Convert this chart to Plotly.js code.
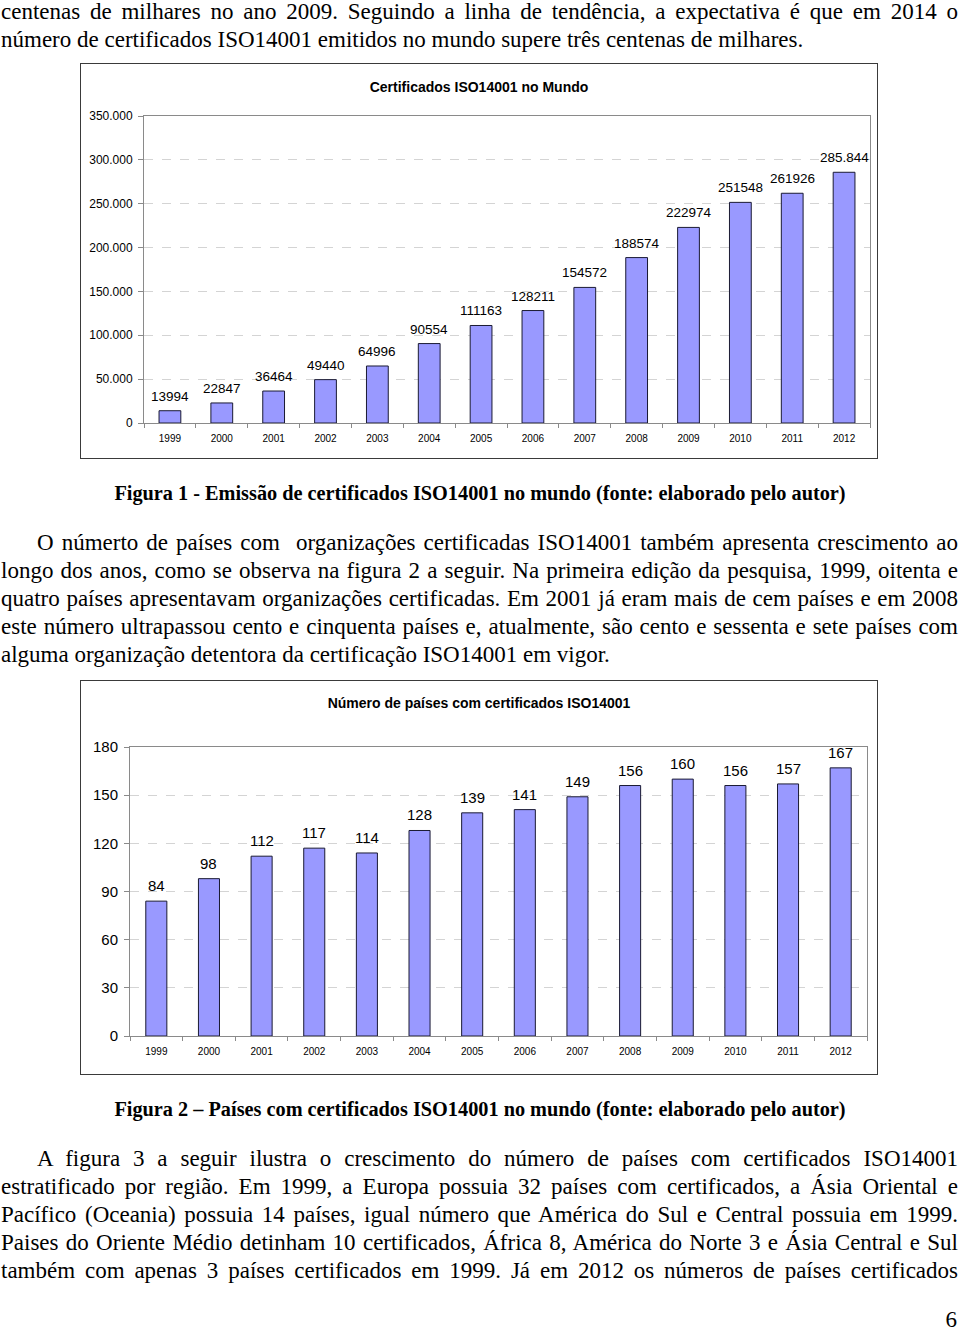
<!DOCTYPE html>
<html>
<head>
<meta charset="utf-8">
<script src="https://cdn.plot.ly/plotly-3.0.1.min.js"></script>
<style>
  html, body { margin:0; padding:0; background:#fff; }
  body { width:960px; height:1331px; position:relative; overflow:hidden;
         font-family:"Liberation Serif","Times New Roman",serif; color:#000; }
  .txt { position:absolute; left:1px; width:957px; font-size:23px; line-height:28px; }
  .ln { text-align:justify; text-align-last:justify; white-space:nowrap; }
  .ln.last { text-align-last:left; }
  .ind { padding-left:36px; }
  .cap { position:absolute; left:0; width:960px; text-align:center; font-weight:bold; font-size:20.3px; line-height:28px; }
  .frame { position:absolute; left:80px; width:796px; border:1px solid #3a3a3a; background:#fff; }
  .pg { position:absolute; right:3px; top:1306px; font-size:23px; line-height:28px; }
</style>
</head>
<body>
<div class="txt" style="top:-2px">
  <div class="ln">centenas de milhares no ano 2009. Seguindo a linha de tendência, a expectativa é que em 2014 o</div>
  <div class="ln last">número de certificados ISO14001 emitidos no mundo supere três centenas de milhares.</div>
</div>

<div class="frame" style="top:63px;height:394px"><div id="chart1" style="width:796px;height:394px"></div></div>

<div class="cap" style="top:479px">Figura 1 - Emissão de certificados ISO14001 no mundo (fonte: elaborado pelo autor)</div>

<div class="txt" style="top:529px">
  <div class="ln ind">O númerto de países com &nbsp;organizações certificadas ISO14001 também apresenta crescimento ao</div>
  <div class="ln">longo dos anos, como se observa na figura 2 a seguir. Na primeira edição da pesquisa, 1999, oitenta e</div>
  <div class="ln">quatro países apresentavam organizações certificadas. Em 2001 já eram mais de cem países e em 2008</div>
  <div class="ln">este número ultrapassou cento e cinquenta países e, atualmente, são cento e sessenta e sete países com</div>
  <div class="ln last">alguma organização detentora da certificação ISO14001 em vigor.</div>
</div>

<div class="frame" style="top:680px;height:393px"><div id="chart2" style="width:796px;height:393px"></div></div>

<div class="cap" style="top:1095px">Figura 2 – Países com certificados ISO14001 no mundo (fonte: elaborado pelo autor)</div>

<div class="txt" style="top:1145px">
  <div class="ln ind">A figura 3 a seguir ilustra o crescimento do número de países com certificados ISO14001</div>
  <div class="ln">estratificado por região. Em 1999, a Europa possuia 32 países com certificados, a Ásia Oriental e</div>
  <div class="ln">Pacífico (Oceania) possuia 14 países, igual número que América do Sul e Central possuia em 1999.</div>
  <div class="ln">Paises do Oriente Médio detinham 10 certificados, África 8, América do Norte 3 e Ásia Central e Sul</div>
  <div class="ln">também com apenas 3 países certificados em 1999. Já em 2012 os números de países certificados</div>
</div>

<div class="pg">6</div>

<script>
const years = ['1999','2000','2001','2002','2003','2004','2005','2006','2007','2008','2009','2010','2011','2012'];
const certificados = [13994,22847,36464,49440,64996,90554,111163,128211,154572,188574,222974,251548,261926,285844];
const certLabels = ['13994','22847','36464','49440','64996','90554','111163','128211','154572','188574','222974','251548','261926','285.844'];
const paises = [84,98,112,117,114,128,139,141,149,156,160,156,157,167];
const paisesLabels = paises.map(String);
const titulo1 = 'Certificados ISO14001 no Mundo';
const titulo2 = 'Número de países com certificados ISO14001';

const FONT = '"Liberation Sans", Arial, sans-serif';
const barColor = '#9999ff';

function xaxisCfg() {
  return {
    type:'category', range:[-0.5, years.length - 0.5],
    showline:true, linecolor:'#8a8a8a', linewidth:1, mirror:true,
    ticks:'outside', tickson:'boundaries', ticklen:4, tickcolor:'#8a8a8a',
    ticklabelstandoff:6,
    tickfont:{family:FONT, size:10, color:'#000'}, showgrid:false, fixedrange:true
  };
}
function yaxisCfg(range, dtick, size) {
  return {
    range:range, dtick:dtick, tick0:0, showline:true, linecolor:'#8a8a8a', linewidth:1, mirror:true,
    ticks:'outside', ticklen:5, tickcolor:'#8a8a8a', ticklabelstandoff:3,
    tickfont:{family:FONT, size:size, color:'#000'},
    showgrid:true, gridcolor:'#d4d4d4', griddash:'dash', gridwidth:1, zeroline:false,
    tickformat:',d', fixedrange:true
  };
}
// value labels above each bar: x is the category index of the bar
function labels(ys, texts, size, shift) {
  return ys.map((y, i) => ({
    x:i, y:y, text:texts[i], xref:'x', yref:'y', showarrow:false,
    yanchor:'bottom', yshift:shift, font:{family:FONT, size:size, color:'#000'}
  }));
}

Plotly.newPlot('chart1', [{
  type:'bar', x:years, y:certificados,
  marker:{color:barColor, line:{color:'#1a1a33', width:1}}, hoverinfo:'none'
}], {
  width:796, height:394, separators:',.',
  margin:{l:63, r:7, t:52, b:35},
  paper_bgcolor:'#fff', plot_bgcolor:'#fff', bargap:0.58, showlegend:false,
  title:{text:titulo1, x:0.5, xanchor:'center', y:1, yref:'container', yanchor:'top', pad:{t:18},
         font:{family:FONT, size:14, color:'#000', weight:'bold'}},
  xaxis:xaxisCfg(),
  yaxis:yaxisCfg([0,350000], 50000, 12),
  annotations:labels(certificados, certLabels, 13.5, 5)
}, {displayModeBar:false, staticPlot:true});

Plotly.newPlot('chart2', [{
  type:'bar', x:years, y:paises,
  marker:{color:barColor, line:{color:'#1a1a33', width:1}}, hoverinfo:'none'
}], {
  width:796, height:393,
  margin:{l:49, r:10, t:66, b:38},
  paper_bgcolor:'#fff', plot_bgcolor:'#fff', bargap:0.6, showlegend:false,
  title:{text:titulo2, x:0.5, xanchor:'center', y:1, yref:'container', yanchor:'top', pad:{t:17},
         font:{family:FONT, size:14, color:'#000', weight:'bold'}},
  xaxis:xaxisCfg(),
  yaxis:yaxisCfg([0,180], 30, 15),
  annotations:labels(paises, paisesLabels, 15, 5)
}, {displayModeBar:false, staticPlot:true});
</script>
</body>
</html>
